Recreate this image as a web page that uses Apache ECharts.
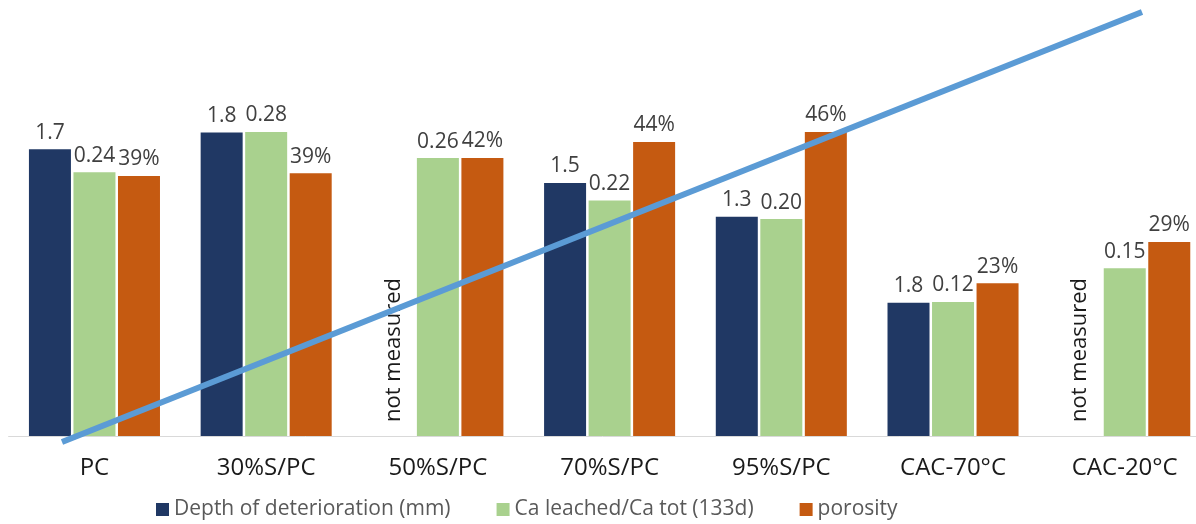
<!DOCTYPE html>
<html>
<head>
<meta charset="utf-8">
<script src="https://cdn.jsdelivr.net/npm/echarts@6/dist/echarts.min.js"></script>
<style>
  html, body { margin: 0; padding: 0; background: #fff; }
  #main { width: 1196px; height: 524px; }
</style>
</head>
<body>
<div id="main"></div>
<script>
var categories = ['PC', '30%S/PC', '50%S/PC', '70%S/PC', '95%S/PC', 'CAC-70°C', 'CAC-20°C'];
// bar heights
var depth = [1.70, 1.80, null, 1.50, 1.30, 0.79, null];
// printed labels (CAC-70°C is labelled 1.8 although drawn lower)
var depthLabels = ['1.7', '1.8', '', '1.5', '1.3', '1.8', ''];
var caLeached = [0.242, 0.279, 0.255, 0.216, 0.199, 0.123, 0.154];
var porosity = [39.0, 39.4, 41.7, 44.1, 45.6, 22.9, 29.1];
var seriesNames = ['Depth of deterioration (mm)', 'Ca leached/Ca tot (133d)', 'porosity'];

var FONT = 'Open Sans';
var myChart = echarts.init(document.getElementById('main'));

var labelStyle = {
    show: true,
    position: 'top',
    distance: 6,
    color: '#404040',
    fontSize: 21,
    fontFamily: FONT
};

// missing depth values get a rotated "not measured" note instead of a bar
var depthData = depth.map(function (v) {
    if (v === null) {
        return {
            value: 0,
            itemStyle: { color: 'rgba(0,0,0,0)' },
            label: {
                show: true,
                position: 'top',
                distance: 14,
                rotate: 90,
                align: 'left',
                verticalAlign: 'middle',
                color: '#1a1a1a',
                fontSize: 22,
                fontFamily: FONT,
                formatter: 'not measured'
            }
        };
    }
    return v;
});

var option = {
    animation: false,
    grid: { left: 8.6, top: 0, width: 1202, height: 436, outerBoundsMode: 'none' },
    legend: {
        data: seriesNames,
        left: 151,
        top: 494,
        icon: 'rect',
        itemWidth: 13,
        itemHeight: 13,
        itemGap: 46,
        textStyle: { color: '#595959', fontSize: 21, fontFamily: FONT }
    },
    xAxis: {
        type: 'category',
        data: categories,
        axisTick: { show: false },
        axisLine: { lineStyle: { color: '#d9d9d9', width: 1 } },
        axisLabel: { color: '#1a1a1a', fontSize: 24, fontFamily: FONT, margin: 20 }
    },
    yAxis: [
        { type: 'value', show: false, min: 0, max: 2.585 },
        { type: 'value', show: false, min: 0, max: 0.40 },
        { type: 'value', show: false, min: 0, max: 65.4 }
    ],
    series: [
        {
            name: seriesNames[0],
            type: 'bar',
            yAxisIndex: 0,
            barWidth: 42,
            barGap: '6%',
            itemStyle: { color: '#203864' },
            label: Object.assign({}, labelStyle, {
                formatter: function (p) { return depthLabels[p.dataIndex]; }
            }),
            data: depthData
        },
        {
            name: seriesNames[1],
            type: 'bar',
            yAxisIndex: 1,
            barWidth: 42,
            barGap: '6%',
            itemStyle: { color: '#a9d18e' },
            label: Object.assign({}, labelStyle, {
                formatter: function (p) { return p.value.toFixed(2); }
            }),
            data: caLeached
        },
        {
            name: seriesNames[2],
            type: 'bar',
            yAxisIndex: 2,
            barWidth: 42,
            barGap: '6%',
            itemStyle: { color: '#c55a11' },
            label: Object.assign({}, labelStyle, {
                formatter: function (p) { return Math.round(p.value) + '%'; }
            }),
            data: porosity
        }
    ],
    // the diagonal stroke drawn across the figure
    graphic: [{
        type: 'line',
        z: 100,
        shape: { x1: 62, y1: 442, x2: 1142, y2: 12 },
        style: { stroke: '#5b9bd5', lineWidth: 6 }
    }]
};

myChart.setOption(option);
</script>
</body>
</html>
